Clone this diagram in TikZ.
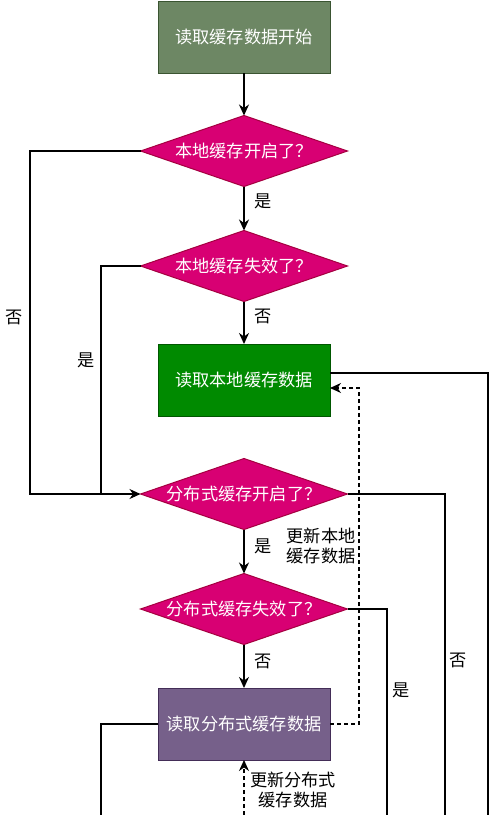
\documentclass[tikz,border=0pt]{standalone}
\usepackage{fontspec}
\setmainfont{Noto Sans CJK SC}
\usetikzlibrary{shapes.geometric,arrows.meta}
\definecolor{sfill}{HTML}{6D8764}
\definecolor{sstroke}{HTML}{3A5431}
\definecolor{dfill}{HTML}{D80073}
\definecolor{dstroke}{HTML}{A50040}
\definecolor{gfill}{HTML}{008A00}
\definecolor{gstroke}{HTML}{005700}
\definecolor{pfill}{HTML}{76608A}
\definecolor{pstroke}{HTML}{432D57}
\begin{document}
\begin{tikzpicture}[x=1pt,y=-1pt,
 box/.style={rectangle,draw,line width=1pt,minimum width=172pt,minimum height=72pt,inner sep=0pt,outer sep=0pt,text=white,font=\fontsize{17.2}{20}\selectfont},
 dia/.style={diamond,draw=dstroke,fill=dfill,line width=1pt,minimum width=207pt,minimum height=71pt,aspect=2.9,inner sep=0pt,outer sep=0pt,text=white,font=\fontsize{17.2}{20}\selectfont},
 flow/.style={line width=1.3pt,-{Stealth[length=11pt,width=10pt,inset=3.5pt]}},
 conn/.style={line width=1.3pt},
 dflow/.style={line width=1.1pt,dash pattern=on 4pt off 3pt,-{Stealth[length=11pt,width=10pt,inset=3.5pt]}},
 lbl/.style={font=\fontsize{17.2}{20}\selectfont,inner sep=0pt,align=center}
]
\useasboundingbox (0,0) rectangle (500,815);
\node[box,fill=sfill,draw=sstroke] (start) at (244,37) {读取缓存数据开始};
\node[dia] (d1) at (244,151) {本地缓存开启了？};
\node[dia] (d2) at (244,266) {本地缓存失效了？};
\node[box,fill=gfill,draw=gstroke] (local) at (244,380) {读取本地缓存数据};
\node[dia] (d3) at (244,494) {分布式缓存开启了？};
\node[dia] (d4) at (244,609) {分布式缓存失效了？};
\node[box,fill=pfill,draw=pstroke] (dist) at (244,724) {读取分布式缓存数据};

\coordinate (j1) at (30,494);
\coordinate (j2) at (101,494);
\coordinate (b1) at (488,815);
\coordinate (b2) at (445,815);
\coordinate (b3) at (387,815);
\coordinate (b4) at (101,815);
\coordinate (b5) at (244,815);

\draw[flow] (start) -- (d1);
\draw[flow] (d1) -- (d2);
\draw[flow] (d2) -- (local);
\draw[flow] (d3) -- (d4);
\draw[flow] (d4) -- (dist);
\draw[flow] (d1.west) -| (j1) -- (d3.west);
\draw[conn] (d2.west) -| (j2);
\draw[conn] ([yshift=7pt]local.east) -| (b1);
\draw[conn] (d3.east) -| (b2);
\draw[conn] (d4.east) -| (b3);
\draw[conn] (dist.west) -| (b4);
\draw[dflow] (dist.east) -| ([yshift=-8pt,xshift=29pt]local.east) -- ([yshift=-8pt]local.east);
\draw[dflow] (b5) -- (dist.south);

\node[lbl] (l1) at (263,201) {是};
\node[lbl] (l2) at (263,316) {否};
\node[lbl] (l3) at (14,317) {否};
\node[lbl] (l4) at (86,360) {是};
\node[lbl] (l5) at (321,546) {更新本地\\缓存数据};
\node[lbl] (l6) at (263,546) {是};
\node[lbl] (l7) at (263,661) {否};
\node[lbl] (l8) at (401,690) {是};
\node[lbl] (l9) at (458,660) {否};
\node[lbl] (l10) at (293,790) {更新分布式\\缓存数据};
\end{tikzpicture}
\end{document}
